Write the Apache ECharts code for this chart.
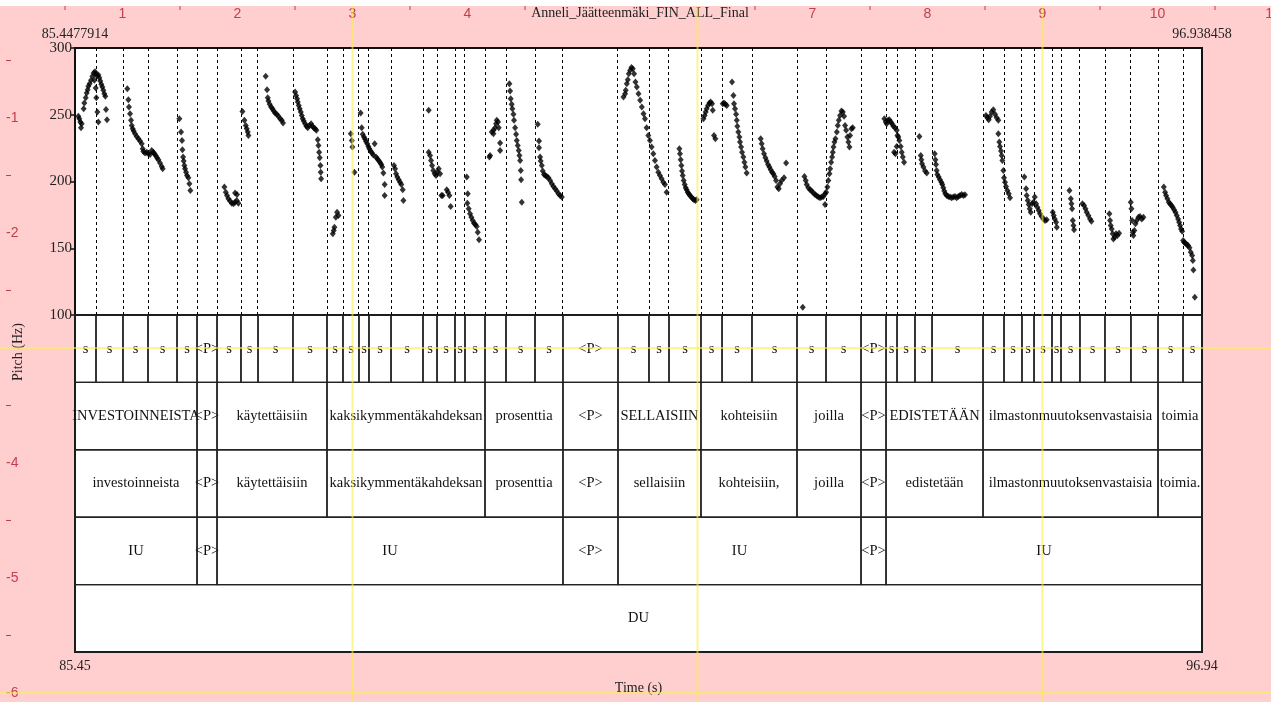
<!DOCTYPE html>
<html>
<head>
<meta charset="utf-8">
<script src="https://cdn.jsdelivr.net/npm/echarts@6/dist/echarts.min.js"></script>
<style>
html, body { margin: 0; padding: 0; background: #ffcfd0; }
#chart { width: 1271px; height: 702px; }
</style>
</head>
<body>
<div id="chart"></div>
<script>
const tStart = 85.4477914
const tEnd = 96.938458
const pitchTicks = [100, 150, 200, 250, 300]

// F0 points per word, [time (s), pitch (Hz)]
const f0Investoinneista = [
  [85.482,248.8],[85.492,247.0],[85.502,244.5],[85.509,240.3],[85.516,243.3],[85.536,254.5],[85.543,258.8],
  [85.557,262.8],[85.567,266.3],[85.577,268.8],[85.584,271.3],[85.597,273.3],[85.611,275.8],[85.625,278.8],
  [85.638,281.3],[85.645,275.8],[85.652,282.3],[85.659,270.0],[85.662,280.8],[85.665,262.8],[85.672,279.3],
  [85.676,252.0],[85.686,279.8],[85.686,244.5],[85.696,277.8],[85.706,275.3],[85.716,272.8],[85.727,270.8],
  [85.737,268.3],[85.747,265.8],[85.757,263.8],[85.764,254.0],[85.774,246.3],
  [85.981,269.5],[85.992,261.3],[85.998,255.8],[86.009,250.8],[86.019,245.8],[86.026,242.0],[86.036,239.5],
  [86.046,237.8],[86.060,235.8],[86.077,233.8],[86.094,232.0],[86.111,230.3],[86.128,228.3],[86.138,224.5],
  [86.145,222.5],[86.162,221.3],[86.179,222.0],[86.196,220.8],[86.213,220.3],[86.230,223.3],[86.247,222.0],
  [86.257,220.8],[86.271,219.5],[86.284,217.8],[86.298,216.3],[86.315,213.8],[86.332,211.3],[86.342,209.5],
  [86.512,247.0],[86.529,237.0],[86.539,230.8],[86.543,223.8],[86.550,218.3],[86.556,215.3],[86.563,212.0],
  [86.570,209.5],[86.580,207.0],[86.590,204.5],[86.604,202.8],[86.614,198.3],[86.624,193.3]
]
const f0Kaytettaisiin = [
  [86.971,195.8],[86.985,192.0],[86.998,189.5],[87.012,187.0],[87.029,185.3],[87.046,183.8],[87.063,183.3],
  [87.080,184.5],[87.080,191.3],[87.097,185.8],[87.100,190.3],[87.114,183.8],
  [87.155,252.5],[87.175,245.8],[87.189,242.0],[87.199,239.5],[87.209,237.0],[87.216,234.5],
  [87.392,278.8],[87.406,268.8],[87.413,262.8],[87.420,260.3],[87.433,257.8],[87.447,255.8],[87.461,254.5],
  [87.474,252.8],[87.488,251.3],[87.505,250.3],[87.522,248.8],[87.539,247.0],[87.556,245.8],[87.569,243.8],
  [87.692,267.0],[87.702,264.5],[87.712,262.0],[87.719,259.5],[87.729,257.0],[87.739,254.5],[87.750,252.0],
  [87.760,249.5],[87.770,247.0],[87.780,245.3],[87.794,243.3],[87.807,241.3],[87.821,240.3],[87.838,242.0],
  [87.855,243.3],[87.869,241.3],[87.882,240.3],[87.896,239.5],[87.909,238.3],[87.923,231.3],[87.930,227.0],
  [87.937,222.0],[87.943,217.8],[87.950,212.0],[87.953,207.0],[87.957,202.0]
]
const f0Kaksikymmentakahdeksan = [
  [88.076,160.8],[88.086,163.3],[88.093,165.8],[88.107,173.3],[88.120,177.0],[88.134,174.5],
  [88.260,235.8],[88.270,230.8],[88.276,225.8],[88.297,207.0],
  [88.360,251.3],[88.371,240.3],[88.381,235.3],[88.394,233.3],[88.405,231.8],[88.415,230.0],[88.428,228.3],
  [88.439,226.3],[88.449,224.5],[88.462,222.8],[88.476,221.3],[88.490,219.8],[88.503,228.3],[88.517,218.3],
  [88.530,217.0],[88.544,215.8],[88.558,214.3],[88.571,212.8],[88.581,210.8],[88.592,206.3],[88.605,197.8],
  [88.605,189.5],
  [88.700,212.0],[88.711,209.5],[88.721,205.8],[88.734,203.3],[88.748,201.3],[88.762,199.5],[88.775,197.8],
  [88.789,193.8],[88.796,185.8],
  [89.054,253.3],[89.054,222.0],[89.068,219.5],[89.078,215.8],[89.088,212.0],[89.101,208.3],[89.115,205.8],
  [89.129,204.5],[89.142,207.0],[89.156,209.5],[89.170,205.8],[89.183,189.5],[89.197,189.5],[89.238,193.8],
  [89.251,192.0],[89.265,189.5],[89.278,181.3],
  [89.442,203.3],[89.448,183.8],[89.452,190.8],[89.462,179.5],[89.476,175.8],[89.489,173.3],[89.503,170.8],
  [89.516,168.8],[89.530,167.8],[89.544,166.3],[89.554,162.0],[89.567,156.3]
]
const f0Prosenttia = [
  [89.673,218.3],[89.680,219.5],[89.697,237.0],[89.714,238.3],[89.714,235.8],[89.731,240.3],[89.741,243.3],
  [89.748,245.8],[89.761,244.5],[89.768,240.3],[89.782,228.8],[89.782,223.3],
  [89.877,273.3],[89.884,267.8],[89.890,262.0],[89.900,257.8],[89.907,254.5],[89.918,250.3],[89.924,245.8],
  [89.935,240.3],[89.945,235.3],[89.952,230.8],[89.962,227.0],[89.972,223.3],[89.979,219.5],[89.986,215.8],
  [89.993,208.3],[89.996,201.3],[90.003,184.5],
  [90.166,242.8],[90.179,230.3],[90.179,225.3],[90.190,218.3],[90.196,215.3],[90.207,212.0],[90.217,207.8],
  [90.230,205.3],[90.244,204.5],[90.258,203.8],[90.275,202.8],[90.292,200.8],[90.309,198.3],[90.326,196.3],
  [90.343,194.5],[90.360,192.8],[90.377,190.8],[90.394,189.5],[90.411,188.3]
]
const f0Sellaisiin = [
  [91.040,263.3],[91.057,265.8],[91.063,268.3],[91.074,273.3],[91.084,276.3],[91.094,280.8],[91.108,283.3],
  [91.121,285.3],[91.135,284.5],[91.148,280.8],[91.162,274.5],[91.176,270.8],[91.193,265.8],[91.210,260.8],
  [91.227,255.8],[91.244,250.8],[91.259,247.0],[91.276,240.3],[91.293,234.5],[91.310,230.8],[91.327,225.8],
  [91.344,220.8],[91.361,215.8],[91.378,210.8],[91.395,207.0],[91.412,204.5],[91.429,202.0],[91.446,199.5],
  [91.463,197.8],[91.480,192.0],
  [91.610,224.5],[91.616,220.8],[91.623,216.3],[91.630,212.0],[91.637,207.8],[91.644,204.5],[91.654,200.8],
  [91.664,197.8],[91.674,195.3],[91.684,193.8],[91.695,192.0],[91.705,190.8],[91.718,189.5],[91.732,188.3],
  [91.746,187.0],[91.759,186.3],[91.773,185.8],[91.786,186.3]
]
const f0Kohteisiin = [
  [91.855,247.0],[91.868,249.5],[91.878,252.0],[91.888,254.5],[91.902,257.0],[91.916,258.8],[91.929,259.5],
  [91.943,258.3],[91.950,253.3],[91.963,234.5],[91.977,232.0],
  [92.052,258.3],[92.065,258.8],[92.079,257.8],[92.093,257.0],[92.147,274.5],[92.161,264.5],[92.167,258.3],
  [92.177,254.5],[92.188,250.3],[92.195,245.8],[92.201,241.3],[92.211,237.0],[92.222,233.3],[92.228,229.5],
  [92.239,225.8],[92.249,222.0],[92.262,218.3],[92.273,214.5],[92.283,210.8],[92.296,206.3],
  [92.439,232.0],[92.449,228.3],[92.459,224.5],[92.473,220.8],[92.487,217.8],[92.500,215.3],[92.514,212.8],
  [92.528,210.8],[92.541,208.8],[92.555,207.0],[92.568,205.8],[92.582,203.8],[92.596,200.8],[92.609,195.8],
  [92.623,194.5],[92.636,198.3],[92.653,200.8],[92.677,202.8],[92.698,213.8]
]
const f0Joilla = [
  [92.868,105.8],
  [92.885,203.8],[92.898,200.8],[92.908,197.8],[92.925,195.3],[92.942,193.8],[92.959,192.8],[92.976,191.3],
  [92.993,190.3],[93.010,189.3],[93.027,188.3],[93.044,187.8],[93.061,188.3],[93.078,188.8],[93.095,182.8],
  [93.095,190.8],[93.106,192.0],[93.119,195.8],[93.129,200.8],[93.140,205.8],[93.147,209.5],[93.157,214.5],
  [93.167,218.3],[93.174,222.0],[93.181,225.8],[93.191,229.5],[93.201,232.0],[93.215,237.0],[93.225,242.0],
  [93.235,245.8],[93.248,249.5],[93.262,252.8],[93.276,252.0],[93.289,248.8],[93.299,242.0],[93.310,238.3],
  [93.323,233.3],[93.333,229.5],[93.344,225.8],[93.350,234.5],[93.364,239.5],[93.378,240.3]
]
const f0Edistetaan = [
  [93.700,247.0],[93.714,244.5],[93.724,243.3],[93.738,245.8],[93.751,246.3],[93.765,244.5],[93.778,243.3],
  [93.792,241.3],[93.799,222.0],[93.809,240.3],[93.813,220.8],[93.826,238.3],[93.826,226.3],[93.833,234.5],
  [93.843,233.3],[93.853,230.8],[93.867,226.3],[93.877,222.0],[93.888,218.3],[93.901,214.5],
  [94.057,233.8],[94.071,219.5],[94.077,216.3],[94.084,213.3],[94.098,210.8],[94.115,207.8],[94.132,206.3],
  [94.213,220.8],[94.220,216.3],[94.226,212.8],[94.233,208.3],[94.240,205.3],[94.254,203.3],[94.267,201.3],
  [94.281,199.5],[94.291,197.8],[94.301,195.3],[94.311,192.8],[94.322,190.8],[94.335,189.5],[94.352,188.8],
  [94.369,188.3],[94.386,187.8],[94.403,188.3],[94.420,188.8],[94.437,187.8],[94.454,188.8],[94.471,189.5],
  [94.488,190.3],[94.505,189.5],[94.522,190.0]
]
const f0Ilmastonmuutoksenvastaisia = [
  [94.736,249.5],[94.750,247.8],[94.764,246.3],[94.777,248.8],[94.794,252.0],[94.811,253.8],[94.828,250.3],
  [94.845,247.8],[94.862,245.8],[94.862,235.8],[94.872,229.5],[94.879,226.3],[94.889,222.8],[94.896,219.5],
  [94.903,215.8],[94.913,208.3],[94.920,202.8],[94.930,199.5],[94.940,196.3],[94.954,193.3],[94.968,190.8],
  [94.981,187.8],
  [95.127,203.3],[95.145,194.5],[95.151,189.5],[95.162,185.8],[95.172,182.8],[95.182,179.5],[95.192,177.0],
  [95.206,183.3],[95.219,184.5],[95.233,188.3],[95.247,183.3],[95.260,180.8],[95.274,178.3],[95.287,175.8],
  [95.304,173.8],[95.321,172.0],[95.338,170.8],[95.355,171.3],
  [95.417,177.0],[95.427,174.5],[95.437,172.0],[95.451,169.5],[95.458,165.8],
  [95.587,193.3],[95.601,187.0],[95.607,183.3],[95.614,179.5],[95.621,170.8],[95.628,167.0],[95.634,163.8],
  [95.719,183.3],[95.736,182.0],[95.750,179.5],[95.763,177.0],[95.780,174.5],[95.797,172.0],[95.811,170.3],
  [95.994,175.8],[96.001,170.8],[96.008,167.0],[96.018,164.5],[96.028,160.8],[96.035,157.0],[96.049,158.3],
  [96.062,160.8],[96.076,159.5],[96.093,161.3],
  [96.212,184.5],[96.219,179.5],[96.226,170.8],[96.232,162.0],[96.239,159.5],[96.249,163.3],[96.260,168.3],
  [96.273,170.8],[96.290,173.3],[96.307,173.8],[96.324,172.0],[96.341,173.3]
]
const f0Toimia = [
  [96.549,195.8],[96.562,192.0],[96.572,189.5],[96.586,187.0],[96.600,184.5],[96.613,183.3],[96.627,182.0],
  [96.640,180.8],[96.654,178.8],[96.668,177.0],[96.681,174.5],[96.695,172.0],[96.705,169.5],[96.715,167.0],
  [96.725,164.5],[96.736,162.8],[96.746,155.8],[96.756,154.5],[96.770,153.8],[96.783,152.8],[96.797,152.0],
  [96.811,150.3],[96.824,147.0],[96.838,144.5],[96.845,140.8],[96.851,133.8],[96.865,113.3]
]

// TextGrid tiers
const syllableEdges = [
  85.662, 85.937, 86.192, 86.488, 86.692, 86.896, 87.140, 87.314, 87.670, 88.017,
  88.180, 88.343, 88.445, 88.670, 88.996, 89.139, 89.322, 89.424, 89.628, 89.842,
  90.138, 90.423, 90.984, 91.300, 91.504, 91.830, 92.045, 92.350, 92.809, 93.105,
  93.462, 93.717, 93.829, 94.012, 94.186, 94.706, 94.920, 95.103, 95.226, 95.409,
  95.501, 95.694, 95.949, 96.214, 96.490, 96.745
]
const syllableLabels = [
  's','s','s','s','s','<P>',
  's','s','s','s','s','s','s','s','s','s','s','s','s','s','s','s',
  '<P>',
  's','s','s','s','s','s','s','s',
  '<P>',
  's','s','s','s','s','s','s','s','s','s','s','s','s','s','s'
]
const wordEdges = [86.692, 86.896, 88.017, 89.628, 90.423, 90.984, 91.830, 92.809, 93.462, 93.717, 94.706, 96.490]
const wordsUpper = ['INVESTOINNEISTA', '<P>', 'käytettäisiin', 'kaksikymmentäkahdeksan', 'prosenttia', '<P>',
  'SELLAISIIN', 'kohteisiin', 'joilla', '<P>', 'EDISTETÄÄN', 'ilmastonmuutoksenvastaisia', 'toimia']
const wordsLower = ['investoinneista', '<P>', 'käytettäisiin', 'kaksikymmentäkahdeksan', 'prosenttia', '<P>',
  'sellaisiin', 'kohteisiin,', 'joilla', '<P>', 'edistetään', 'ilmastonmuutoksenvastaisia', 'toimia.']
const iuEdges = [86.692, 86.896, 90.423, 90.984, 93.462, 93.717]
const iuLabels = ['IU', '<P>', 'IU', '<P>', 'IU', '<P>', 'IU']
const duEdges = []
const duLabels = ['DU']

const serif = '"Liberation Serif", "Times New Roman", serif'
const rulerColor = '#c2404c'

function intervals(edges, labels, tier) {
  const cuts = [tStart, ...edges, tEnd]
  return labels.map((label, i) => ({ value: [cuts[i], cuts[i + 1], tier], label: label }))
}
const tierItems = [
  ...intervals(syllableEdges, syllableLabels, 0),
  ...intervals(wordEdges, wordsUpper, 1),
  ...intervals(wordEdges, wordsLower, 2),
  ...intervals(iuEdges, iuLabels, 3),
  ...intervals(duEdges, duLabels, 4)
]

const pitchPoints = [].concat(f0Investoinneista, f0Kaytettaisiin, f0Kaksikymmentakahdeksan, f0Prosenttia,
  f0Sellaisiin, f0Kohteisiin, f0Joilla, f0Edistetaan, f0Ilmastonmuutoksenvastaisia, f0Toimia)

function renderInterval(params, api) {
  const a = api.coord([api.value(0), api.value(2)])
  const b = api.coord([api.value(1), api.value(2) + 1])
  return {
    type: 'group',
    children: [{
      type: 'rect',
      shape: { x: a[0], y: a[1], width: b[0] - a[0], height: b[1] - a[1] },
      style: { fill: 'transparent', stroke: '#222', lineWidth: 1.4 }
    }, {
      type: 'text',
      x: (a[0] + b[0]) / 2,
      y: (a[1] + b[1]) / 2,
      style: {
        text: tierItems[params.dataIndex].label,
        align: 'center', verticalAlign: 'middle',
        font: '14.5px ' + serif, fill: '#111'
      }
    }]
  }
}

// Praat picture window rulers (inches)
const inch = 115
const rulerX0 = 7.5
const rulerY0 = 3
const topNumbers = [1, 2, 3, 4, 7, 8, 9, 10, 11]
const leftNumbers = [1, 2, 4, 5, 6]
const guideCols = [3, 6, 9]
const guideRows = [3, 6]

function rulerGraphics() {
  const g = [{ type: 'rect', shape: { x: 0, y: 0, width: 1271, height: 6 }, style: { fill: '#fff' }, z: 1 }]
  topNumbers.forEach(n => g.push({
    type: 'text', x: rulerX0 + n * inch, y: 14, z: 1,
    style: { text: String(n), align: 'center', verticalAlign: 'middle', font: '14px "Liberation Sans", Arial', fill: rulerColor }
  }))
  for (let k = 0; k < 11; k++) {
    const x = rulerX0 + (k + 0.5) * inch
    g.push({ type: 'line', shape: { x1: x, y1: 6, x2: x, y2: 10 }, style: { stroke: rulerColor, lineWidth: 1 }, z: 1 })
  }
  leftNumbers.forEach(n => g.push({
    type: 'text', x: 6, y: rulerY0 + n * inch, z: 1,
    style: { text: '-' + n, align: 'left', verticalAlign: 'middle', font: '14px "Liberation Sans", Arial', fill: rulerColor }
  }))
  for (let k = 0; k < 6; k++) {
    const y = rulerY0 + (k + 0.5) * inch
    g.push({ type: 'line', shape: { x1: 6, y1: y, x2: 11, y2: y }, style: { stroke: rulerColor, lineWidth: 1 }, z: 1 })
  }
  guideCols.forEach(n => {
    const x = rulerX0 + n * inch
    g.push({ type: 'line', shape: { x1: x, y1: 6, x2: x, y2: 702 }, style: { stroke: 'rgba(250,240,70,0.6)', lineWidth: 2 }, z: 100 })
  })
  guideRows.forEach(n => {
    const y = rulerY0 + n * inch
    g.push({ type: 'line', shape: { x1: 0, y1: y, x2: 1271, y2: y }, style: { stroke: 'rgba(250,240,70,0.6)', lineWidth: 2 }, z: 100 })
  })
  g.push({
    type: 'text', x: 640, y: 13, z: 2,
    style: { text: 'Anneli_Jäätteenmäki_FIN_ALL_Final', align: 'center', verticalAlign: 'middle', font: '14px ' + serif, fill: '#222' }
  })
  g.push({
    type: 'text', x: 18, y: 352, rotation: Math.PI / 2, z: 2,
    style: { text: 'Pitch (Hz)', align: 'center', verticalAlign: 'middle', font: '14px ' + serif, fill: '#222' }
  })
  return g
}

function endLabel(v) {
  if (Math.abs(v - tStart) < 1e-4) return String(tStart)
  if (Math.abs(v - tEnd) < 1e-4) return String(tEnd)
  return ''
}

const chart = echarts.init(document.getElementById('chart'))
chart.setOption({
  animation: false,
  backgroundColor: '#ffcfd0',
  graphic: rulerGraphics(),
  grid: [
    { left: 75, right: 69, top: 48, height: 267, show: true, backgroundColor: '#fff', borderColor: '#111', borderWidth: 2 },
    { left: 75, right: 69, top: 315, bottom: 50, show: true, backgroundColor: '#fff', borderColor: '#111', borderWidth: 2 }
  ],
  xAxis: [{
    gridIndex: 0, type: 'value', position: 'top', min: tStart, max: tEnd, interval: tEnd - tStart,
    axisLine: { show: false }, axisTick: { show: false }, splitLine: { show: false },
    axisLabel: { margin: 7, formatter: endLabel, fontFamily: serif, fontSize: 14, color: '#222', showMinLabel: true, showMaxLabel: true }
  }, {
    gridIndex: 1, type: 'value', min: tStart, max: tEnd, interval: tEnd - tStart,
    axisLine: { show: false }, splitLine: { show: false },
    axisTick: { show: true, length: 5, lineStyle: { color: '#111', width: 1.5 } },
    axisLabel: { margin: 7, formatter: v => v.toFixed(2), fontFamily: serif, fontSize: 14, color: '#222', showMinLabel: true, showMaxLabel: true },
    name: 'Time (s)', nameLocation: 'middle', nameGap: 29,
    nameTextStyle: { fontFamily: serif, fontSize: 14, color: '#222' }
  }],
  yAxis: [{
    gridIndex: 0, type: 'value', min: pitchTicks[0], max: pitchTicks[pitchTicks.length - 1], interval: 50,
    axisLine: { show: false }, splitLine: { show: false },
    axisTick: { show: true, length: 4, lineStyle: { color: '#111', width: 1.5 } },
    axisLabel: { margin: 3, fontFamily: serif, fontSize: 15, color: '#222' }
  }, {
    gridIndex: 1, type: 'value', min: 0, max: 5, inverse: true, show: false
  }],
  series: [{
    type: 'scatter',
    xAxisIndex: 0, yAxisIndex: 0,
    data: pitchPoints,
    symbol: 'diamond',
    symbolSize: [6, 7],
    itemStyle: { color: '#000' },
    z: 3,
    markLine: {
      silent: true,
      symbol: ['none', 'none'],
      label: { show: false },
      lineStyle: { color: '#000', type: [3, 3], width: 1 },
      data: syllableEdges.map(t => ({ xAxis: t }))
    }
  }, {
    type: 'custom',
    xAxisIndex: 1, yAxisIndex: 1,
    renderItem: renderInterval,
    encode: { x: [0, 1], y: 2 },
    data: tierItems.map(d => d.value),
    z: 2
  }]
})
</script>
</body>
</html>
